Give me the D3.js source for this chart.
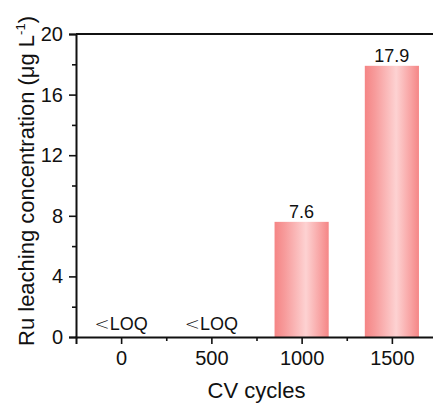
<!DOCTYPE html>
<html>
<head>
<meta charset="utf-8">
<script src="https://cdn.jsdelivr.net/npm/d3@7"></script>
<style>
  html, body { margin: 0; padding: 0; background: #fff; }
  svg { display: block; }
  text { font-family: "Liberation Sans", Arial, sans-serif; fill: #111; }
</style>
</head>
<body>
<svg id="chart" width="433" height="408"></svg>
<script>
// CV cycle counts and Ru leaching (µg/L); null = below limit of quantification
const cycles = [0, 500, 1000, 1500];
const leaching = [null, null, 7.6, 17.9];
const valueLabels = ["<LOQ", "<LOQ", "7.6", "17.9"];
const yTicks = [0, 4, 8, 12, 16, 20];
const yMinorTicks = [2, 6, 10, 14, 18];
const xTicks = [0, 500, 1000, 1500];
const xMinorTicks = [250, 750, 1250];
const barWidthCycles = 300;

const svg = d3.select("#chart");
const plotL = 76, plotR = 437, plotT = 34, plotB = 337;

const x = d3.scaleLinear().domain([-250, 1750]).range([plotL, plotR]);
const y = d3.scaleLinear().domain([0, 20]).range([plotB, plotT]);

// Bar gradient: darker edges, pale highlight right of centre
const defs = svg.append("defs");
const grad = defs.append("linearGradient").attr("id", "barGrad")
  .attr("x1", "0%").attr("x2", "100%").attr("y1", "0%").attr("y2", "0%");
[["0%", "#f58585"], ["18%", "#f79a9a"], ["58%", "#fdd2d2"], ["85%", "#f8a2a2"], ["100%", "#f58686"]]
  .forEach(([o, c]) => grad.append("stop").attr("offset", o).attr("stop-color", c));

const data = cycles.map((c, i) => ({ c, v: leaching[i], label: valueLabels[i] }));

// Bars
svg.append("g").selectAll("rect")
  .data(data.filter(d => d.v !== null))
  .join("rect")
  .attr("x", d => x(d.c - barWidthCycles / 2))
  .attr("width", d => x(d.c + barWidthCycles / 2) - x(d.c - barWidthCycles / 2))
  .attr("y", d => y(d.v))
  .attr("height", d => y(0) - y(d.v))
  .attr("fill", "url(#barGrad)");

// Value labels
const lbl = svg.append("g").selectAll("text")
  .data(data)
  .join("text")
  .attr("x", d => x(d.c))
  .attr("y", d => d.v === null ? y(0) - 7 : y(d.v) - 4)
  .attr("text-anchor", "middle")
  .style("font-size", "18px");
lbl.each(function (d) {
  const t = d3.select(this);
  if (d.v === null) {
    t.append("tspan").text("<").style("font-family", "'DejaVu Sans', sans-serif")
      .style("font-weight", "200");
    t.append("tspan").text(d.label.slice(1));
  } else {
    t.text(d.label);
  }
});

// Y axis
svg.append("g").attr("transform", `translate(${plotL},0)`)
  .call(d3.axisLeft(y).tickValues(yTicks).tickSize(7).tickPadding(6).tickFormat(d3.format("d")));
svg.append("g").attr("transform", `translate(${plotL},0)`)
  .call(d3.axisLeft(y).tickValues(yMinorTicks).tickSize(4).tickFormat(""))
  .call(g => g.select(".domain").remove());

// X axis
svg.append("g").attr("transform", `translate(0,${plotB})`)
  .call(d3.axisBottom(x).tickValues(xTicks).tickSize(7).tickPadding(7).tickFormat(d3.format("d")));
svg.append("g").attr("transform", `translate(0,${plotB})`)
  .call(d3.axisBottom(x).tickValues(xMinorTicks).tickSize(4).tickFormat(""))
  .call(g => g.select(".domain").remove());

svg.selectAll(".domain").attr("stroke", "#111").attr("stroke-width", 2);
svg.selectAll(".tick line").attr("stroke", "#111").attr("stroke-width", 1.6);
svg.selectAll(".tick text").style("font-size", "20px").style("font-family", "'Liberation Sans', Arial, sans-serif").attr("fill", "#111");

// Frame: top and right edges
svg.append("line").attr("x1", plotL).attr("x2", plotR).attr("y1", plotT).attr("y2", plotT)
  .attr("stroke", "#111").attr("stroke-width", 2);
svg.append("line").attr("x1", plotR).attr("x2", plotR).attr("y1", plotT).attr("y2", plotB)
  .attr("stroke", "#111").attr("stroke-width", 2);

// Axis titles
svg.append("text")
  .attr("x", (plotL + plotR) / 2).attr("y", 398)
  .attr("text-anchor", "middle").style("font-size", "22px")
  .text("CV cycles");

const yt = svg.append("text")
  .attr("transform", `translate(34,181) rotate(-90)`)
  .attr("text-anchor", "middle").style("font-size", "22px");
yt.append("tspan").text("Ru leaching concentration (μg L");
yt.append("tspan").text("-1").style("font-size", "13px").attr("dy", -9);
yt.append("tspan").text(")").attr("dy", 9);
</script>
</body>
</html>
